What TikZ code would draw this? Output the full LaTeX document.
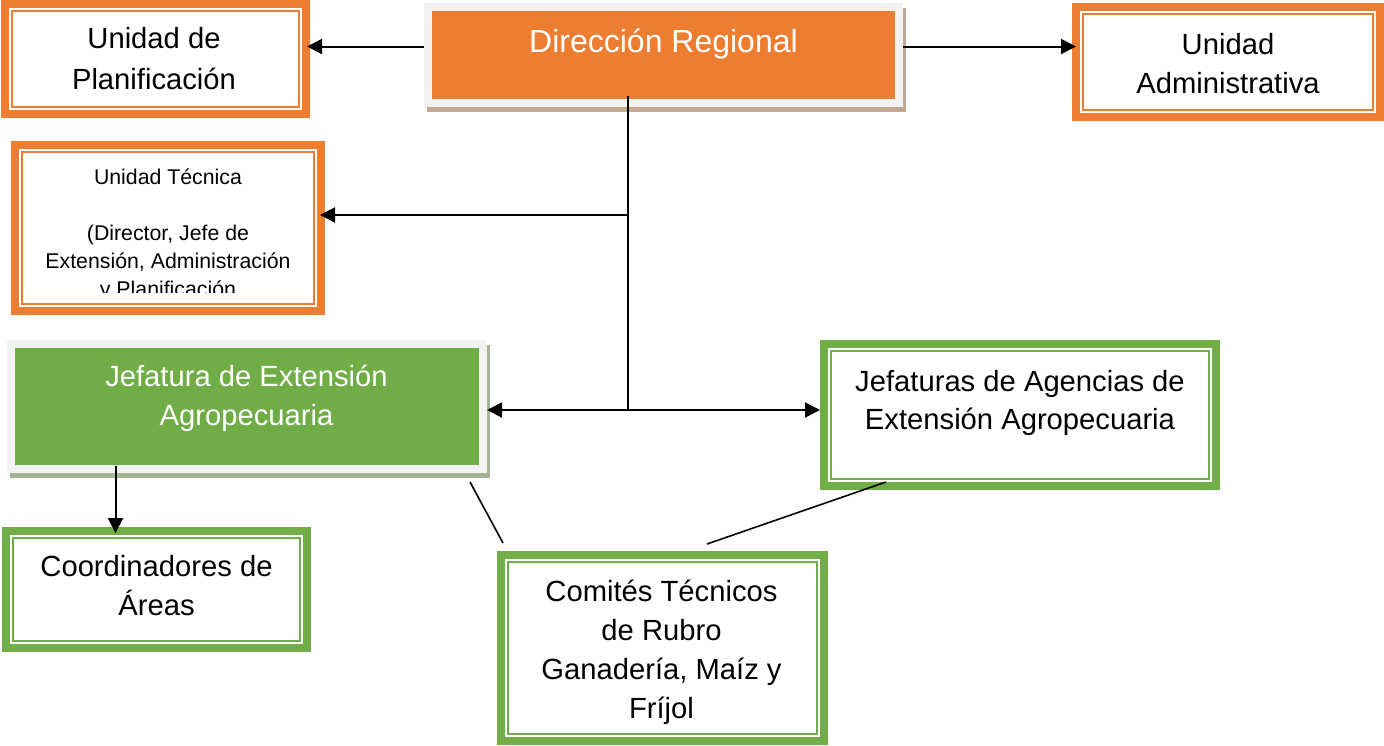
\documentclass[tikz,border=0pt]{standalone}
\usepackage{fontspec}
\setmainfont{Liberation Sans}
\usetikzlibrary{arrows.meta}
\definecolor{ora}{HTML}{ED7D31}
\definecolor{grn}{HTML}{70AD47}
\definecolor{frm}{HTML}{F2F2F2}
\definecolor{shO}{HTML}{C4A88F}
\definecolor{shG}{HTML}{A6B496}
\begin{document}
\begin{tikzpicture}[x=1pt,y=-1pt,
  dbox/.style={draw=#1, line width=8pt, fill=white, inner sep=0pt, outer sep=4pt,
    path picture={\draw[#1,line width=1.8pt]
      ([shift={(6.9pt,-6.9pt)}]path picture bounding box.north west) rectangle
      ([shift={(-6.9pt,6.9pt)}]path picture bounding box.south east);}},
  gbox/.style={fill=#1, draw=frm, line width=8pt, inner sep=0pt, outer sep=4pt},
  txt/.style={inner sep=0pt, outer sep=0pt, anchor=north, align=center},
  conn/.style={line width=2pt, black},
  arr/.style={conn, -{Triangle[length=15pt,width=15pt]}},
  darr/.style={conn, {Triangle[length=15pt,width=15pt]}-{Triangle[length=15pt,width=15pt]}}]
\useasboundingbox (0,0) rectangle (1384,745);
% shadows
\fill[shO] (427,8) rectangle (906,112);
\fill[shG] (10,345) rectangle (489.5,478);
% boxes
\node[dbox=ora, minimum width=301pt, minimum height=110pt] (plan) at (155.5,59) {};
\node[dbox=ora, minimum width=304pt, minimum height=110pt] (adm) at (1228,62) {};
\node[dbox=ora, minimum width=306pt, minimum height=166pt] (tec) at (168,228) {};
\node[dbox=grn, minimum width=392pt, minimum height=142pt] (age) at (1020,415) {};
\node[dbox=grn, minimum width=301pt, minimum height=117pt] (coo) at (156.5,589.5) {};
\node[dbox=grn, minimum width=323pt, minimum height=186pt] (com) at (662.5,648) {};
\node[gbox=ora, minimum width=471pt, minimum height=96pt] (dir) at (663.5,55) {};
\node[gbox=grn, minimum width=472pt, minimum height=125pt] (jef) at (247,406.5) {};
% texts
\node[txt, font=\fontsize{29.2}{41.7}\selectfont] (tplan) at (154,19.1) {\strut Unidad de\\Planificación};
\node[txt, font=\fontsize{29.2}{38.5}\selectfont] (tadm) at (1228,28) {\strut Unidad\\Administrativa};
\node[inner sep=0pt, anchor=base, text=white, font=\fontsize{32}{40}\selectfont] (tdir) at (663.5,52) {Dirección Regional};
\begin{scope}
\clip (11,141) rectangle (325,292);
\node[txt, font=\fontsize{21.3}{28}\selectfont] (ttec) at (168,164.4) {\strut Unidad Técnica\\\mbox{}\\(Director, Jefe de\\Extensión, Administración\\y Planificación};
\end{scope}
\node[txt, text=white, font=\fontsize{29.2}{39}\selectfont] (tjef) at (246.5,359.4) {\strut Jefatura de Extensión\\Agropecuaria};
\node[txt, font=\fontsize{29.2}{38}\selectfont] (tage) at (1020,364.4) {\strut Jefaturas de Agencias de\\Extensión Agropecuaria};
\node[txt, font=\fontsize{29.2}{38.3}\selectfont] (tcoo) at (156.5,549.9) {\strut Coordinadores de\\Áreas};
\node[txt, font=\fontsize{29.2}{38.8}\selectfont] (tcom) at (661.5,574.5) {\strut Comités Técnicos\\de Rubro\\Ganadería, Maíz y\\Fríjol};
% connectors
\coordinate (yl) at (0,46.5);
\coordinate (vx) at (628,215);
\coordinate (vj) at (628,410);
\coordinate (cx) at (115.5,0);
\coordinate (vt) at (dir.south -| vx);
\coordinate (js) at (jef.south -| cx);
\draw[arr, shorten >=-3pt] (dir.west |- yl) -- (plan.east |- yl);
\draw[arr, shorten >=-4pt] (dir.east |- yl) -- (adm.west |- yl);
\draw[conn] ([yshift=11pt]vt) -- (vj);
\draw[arr, shorten >=-5pt] (vx) -- (tec.east |- vx);
\draw[darr] (jef.east |- vj) -- (age.west |- vj);
\draw[arr, shorten >=-6pt] ([yshift=7pt]js) -- (coo.north -| cx);
\draw[conn, line width=1.6pt] ([shift={(-17pt,-9pt)}]jef.south east) -- ([shift={(6pt,8pt)}]com.north west);
\draw[conn, line width=1.6pt] ([shift={(66pt,8pt)}]age.south west) -- ([shift={(44.5pt,7pt)}]com.north);
\end{tikzpicture}
\end{document}
